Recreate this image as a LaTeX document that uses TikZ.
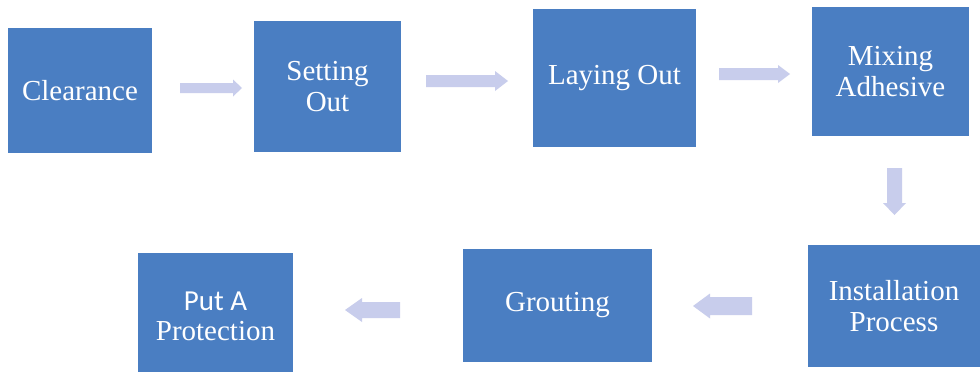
\documentclass[tikz,border=0pt]{standalone}
\usepackage{fontspec}
\setmainfont{Liberation Serif}
\newfontfamily\calfont{Carlito}
\definecolor{boxblue}{RGB}{74,126,194}
\definecolor{arrowfill}{RGB}{200,205,236}
\newcommand{\blockarr}[6]{%
  \fill[arrowfill,shift={(#1)},rotate=#2] (0,-#4) -- ({#3-#6},-#4) -- ({#3-#6},-#5) -- (#3,0) -- ({#3-#6},#5) -- ({#3-#6},#4) -- (0,#4) -- cycle;}
\begin{document}
\begin{tikzpicture}[x=1pt,y=-1pt,
  stepbox/.style={fill=boxblue,draw=none,inner sep=0pt,align=center,text=white,
    font=\fontsize{29}{30.5}\selectfont}]
\useasboundingbox (0,0) rectangle (980,372);
\fill[white] (0,0) rectangle (980,372);
\node[stepbox,minimum width=144pt,minimum height=125pt] (c1) at (80,90.5) {Clearance};
\node[stepbox,minimum width=147pt,minimum height=131pt] (c2) at (327.5,86.5) {Setting\\Out};
\node[stepbox,minimum width=163pt,minimum height=138pt] (c3) at (614.5,78) {Laying Out};
\node[stepbox,minimum width=157pt,minimum height=129pt] (c4) at (890.5,71.5) {Mixing\\Adhesive};
\node[stepbox,minimum width=172pt,minimum height=122pt] (c5) at (894,306) {Installation\\Process};
\node[stepbox,minimum width=189pt,minimum height=113pt] (c6) at (557.5,305.5) {Grouting};
\node[stepbox,minimum width=155pt,minimum height=127pt,font=\fontsize{29}{29.5}\selectfont] (c7) at (215.5,316.5) {{\calfont Put A}\\Protection};
\coordinate (a1) at (180,88);
\coordinate (a2) at (426,81);
\coordinate (a3) at (719,74);
\coordinate (a4) at (894.5,168);
\coordinate (a5) at (752,306);
\coordinate (a6) at (400,310);
\blockarr{a1}{0}{62}{5}{8.5}{9}
\blockarr{a2}{0}{82}{6}{10}{13}
\blockarr{a3}{0}{71}{6}{9}{12}
\blockarr{a4}{-90}{47}{7.5}{11.5}{12}
\blockarr{a5}{180}{59}{9}{12.5}{17}
\blockarr{a6}{180}{55}{8}{12}{17}
\end{tikzpicture}
\end{document}
